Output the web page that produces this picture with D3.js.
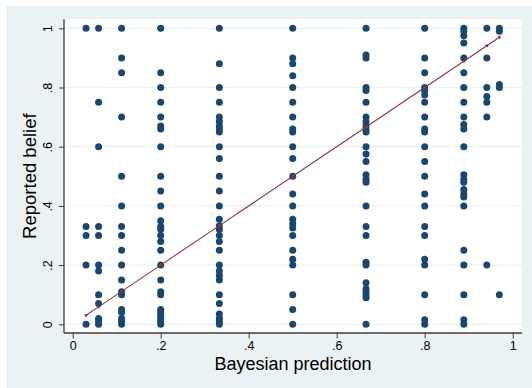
<!DOCTYPE html>
<html>
<head>
<meta charset="utf-8">
<script src="https://cdn.jsdelivr.net/npm/d3@7"></script>
<style>
  html, body { margin: 0; padding: 0; background: #ffffff; }
  svg { display: block; font-family: "Liberation Sans", Arial, Helvetica, sans-serif; }
</style>
</head>
<body>
<svg id="chart" width="532" height="388"></svg>
<script>
// Bayesian posterior for each treatment (x) and the beliefs subjects reported (y)
const predictions = [1/33, 1/17, 1/9, 1/5, 1/3, 1/2, 2/3, 4/5, 8/9, 16/17, 32/33];

const beliefs1 = [1, 0.33, 0.30, 0.20, 0];
const beliefs2 = [1, 0.75, 0.60, 0.33, 0.30, 0.20, 0.18, 0.10, 0.07, 0.02, 0.01, 0];
const beliefs3 = [1, 0.90, 0.85, 0.70, 0.50, 0.40, 0.33, 0.30, 0.25, 0.20, 0.15, 0.11, 0.10, 0.05, 0.04, 0.02, 0.01, 0];
const beliefs4 = [1, 0.85, 0.80, 0.75, 0.70, 0.67, 0.66, 0.60, 0.50, 0.45, 0.40, 0.35, 0.33, 0.32, 0.30, 0.28, 0.25, 0.20, 0.15, 0.11, 0.10, 0.05, 0.04, 0.03, 0.02, 0.01, 0];
const beliefs5 = [1, 0.88, 0.80, 0.75, 0.70, 0.685, 0.67, 0.66, 0.65, 0.60, 0.56, 0.50, 0.45, 0.40, 0.355, 0.333, 0.32, 0.30, 0.28, 0.25, 0.20, 0.18, 0.165, 0.15, 0.10, 0.07, 0.035, 0.02, 0.01, 0];
const beliefs6 = [1, 0.90, 0.88, 0.84, 0.80, 0.75, 0.70, 0.66, 0.65, 0.60, 0.56, 0.50, 0.44, 0.40, 0.355, 0.34, 0.325, 0.30, 0.25, 0.22, 0.20, 0.10, 0.05, 0];
const beliefs7 = [1, 0.91, 0.90, 0.80, 0.79, 0.75, 0.70, 0.685, 0.67, 0.66, 0.65, 0.60, 0.575, 0.55, 0.505, 0.49, 0.48, 0.40, 0.33, 0.30, 0.21, 0.20, 0.14, 0.12, 0.11, 0.10, 0.09, 0];
const beliefs8 = [1, 0.90, 0.85, 0.80, 0.79, 0.775, 0.75, 0.70, 0.66, 0.65, 0.60, 0.55, 0.50, 0.44, 0.40, 0.33, 0.30, 0.22, 0.20, 0.10, 0.015, 0];
const beliefs9 = [1, 0.99, 0.975, 0.95, 0.90, 0.85, 0.80, 0.75, 0.70, 0.675, 0.66, 0.60, 0.505, 0.49, 0.48, 0.455, 0.44, 0.43, 0.40, 0.25, 0.20, 0.10, 0.015, 0];
const beliefs10 = [1, 0.90, 0.80, 0.77, 0.75, 0.70, 0.20];
const beliefs11 = [1, 0.99, 0.81, 0.80, 0.10];

const beliefsByPrediction = [beliefs1, beliefs2, beliefs3, beliefs4, beliefs5, beliefs6,
                             beliefs7, beliefs8, beliefs9, beliefs10, beliefs11];

const tickValues = [0, 0.2, 0.4, 0.6, 0.8, 1];
const tickLabels = ["0", ".2", ".4", ".6", ".8", "1"];

const xTitle = "Bayesian prediction";
const yTitle = "Reported belief";

// ---- layout ----
const W = 532, H = 388;
const plot = { left: 64, right: 522, top: 19.3, bottom: 333 };
const inset = 8.7;

const svg = d3.select("#chart");

// outer graph region
svg.append("rect").attr("x", 6).attr("y", 6).attr("width", W - 6).attr("height", H - 6)
  .attr("fill", "#eaf2f3");
// plot region
svg.append("rect").attr("x", plot.left).attr("y", plot.top)
  .attr("width", plot.right - plot.left).attr("height", plot.bottom - plot.top)
  .attr("fill", "#ffffff");

const x = d3.scaleLinear().domain([0, 1]).range([plot.left + inset, plot.right - inset - 0.6]);
const y = d3.scaleLinear().domain([0, 1]).range([plot.bottom - inset, plot.top + inset + 0.3]);

// horizontal grid lines
svg.append("g").selectAll("line").data(tickValues).join("line")
  .attr("x1", plot.left).attr("x2", plot.right)
  .attr("y1", d => y(d)).attr("y2", d => y(d))
  .attr("stroke", "#eaf2f3").attr("stroke-width", 1.3);

// scatter points
const points = [];
predictions.forEach((p, i) => beliefsByPrediction[i].forEach(b => points.push([p, b])));

svg.append("g").selectAll("circle").data(points).join("circle")
  .attr("cx", d => x(d[0])).attr("cy", d => y(d[1])).attr("r", 3.5)
  .attr("fill", "#1a476f");

// 45-degree reference: prediction against itself
const line = d3.line().x(d => x(d)).y(d => y(d));
svg.append("path").datum(predictions)
  .attr("d", line).attr("fill", "none")
  .attr("stroke", "#90353b").attr("stroke-width", 1.1);
svg.append("g").selectAll("rect").data(predictions).join("rect")
  .attr("x", d => x(d) - 1.3).attr("y", d => y(d) - 1.3)
  .attr("width", 2.6).attr("height", 2.6).attr("fill", "#90353b");

// axes
const axisColor = "#3c3c3c";
const fmt = d => tickLabels[tickValues.indexOf(d)];

const gx = svg.append("g").attr("transform", `translate(0,${plot.bottom})`)
  .call(d3.axisBottom(x).tickValues(tickValues).tickFormat(fmt).tickSize(5.5).tickSizeOuter(0));
gx.select(".domain").remove();
gx.selectAll(".tick line").attr("stroke", axisColor).attr("stroke-width", 1);
gx.selectAll(".tick text").attr("y", 17).attr("dy", 0)
  .attr("font-size", 12.5).attr("fill", "#000").attr("font-family", null);

const gy = svg.append("g").attr("transform", `translate(${plot.left},0)`)
  .call(d3.axisLeft(y).tickValues(tickValues).tickFormat(fmt).tickSize(5).tickSizeOuter(0));
gy.select(".domain").remove();
gy.selectAll(".tick line").attr("stroke", axisColor).attr("stroke-width", 1);
gy.selectAll(".tick text").attr("x", 0).attr("y", -12).attr("dy", 0)
  .attr("transform", "rotate(-90)").attr("text-anchor", "middle")
  .attr("font-size", 12.5).attr("fill", "#000").attr("font-family", null);

// axis lines spanning the plot region
svg.append("line").attr("x1", plot.left).attr("x2", plot.right)
  .attr("y1", plot.bottom).attr("y2", plot.bottom)
  .attr("stroke", axisColor).attr("stroke-width", 1.3);
svg.append("line").attr("x1", plot.left).attr("x2", plot.left)
  .attr("y1", plot.top).attr("y2", plot.bottom)
  .attr("stroke", axisColor).attr("stroke-width", 1.3);

// titles
svg.append("text").attr("x", (plot.left + plot.right) / 2).attr("y", 370)
  .attr("text-anchor", "middle").attr("font-size", 18).attr("fill", "#000")
  .text(xTitle);
svg.append("text")
  .attr("transform", `translate(36,${(plot.top + plot.bottom) / 2}) rotate(-90)`)
  .attr("text-anchor", "middle").attr("font-size", 18.5).attr("fill", "#000")
  .text(yTitle);
</script>
</body>
</html>
